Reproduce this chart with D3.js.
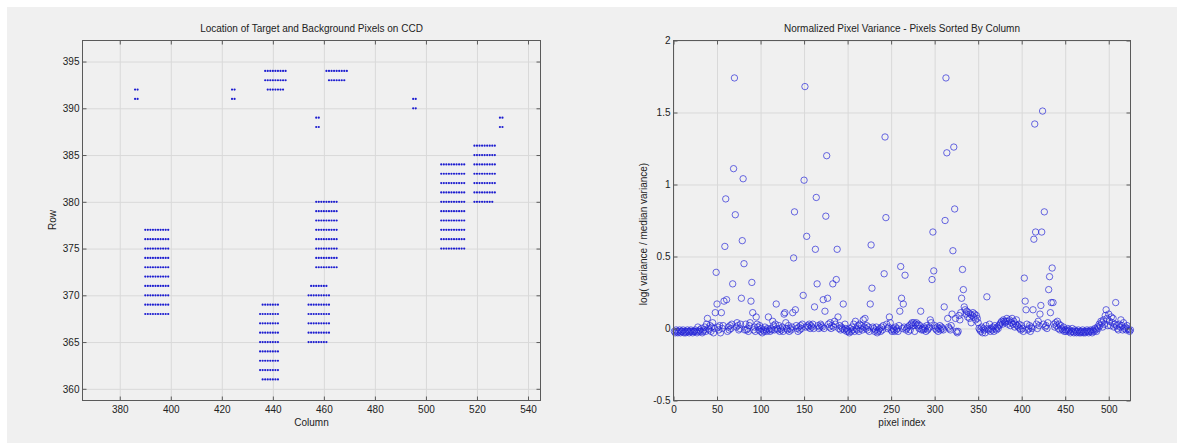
<!DOCTYPE html>
<html>
<head>
<meta charset="utf-8">
<script src="https://cdn.jsdelivr.net/npm/d3@7"></script>
<style>
  body { margin: 0; background: #fff; }
  text { font-family: "Liberation Sans", Arial, sans-serif; }
</style>
</head>
<body>
<svg id="canvas"></svg>
<script>
// [row, first column, last column] of each run of pixels
const pixelRuns = [
    [391, 386, 387], [392, 386, 387],
    [368, 390, 399], [369, 390, 399], [370, 390, 399], [371, 390, 399], [372, 390, 399],
    [373, 390, 399], [374, 390, 399], [375, 390, 399], [376, 390, 399], [377, 390, 399],
    [391, 424, 425], [392, 424, 425],
    [392, 438, 444], [393, 437, 445], [394, 437, 445],
    [393, 462, 468], [394, 461, 469],
    [388, 457, 458], [389, 457, 458],
    [390, 495, 496], [391, 495, 496],
    [388, 529, 530], [389, 529, 530],
    [361, 436, 442], [362, 435, 442], [363, 435, 442], [364, 435, 442], [365, 435, 442],
    [366, 435, 442], [367, 435, 442], [368, 435, 442], [369, 436, 442],
    [375, 506, 515], [376, 506, 515], [377, 506, 515], [378, 506, 515], [379, 506, 515],
    [380, 506, 515], [381, 506, 515], [382, 506, 515], [383, 506, 515], [384, 506, 515],
    [380, 519, 526], [381, 519, 527], [382, 519, 527], [383, 519, 527], [384, 519, 527],
    [385, 519, 527], [386, 519, 527],
    [365, 454, 461], [366, 454, 462], [367, 454, 462], [368, 454, 462], [369, 454, 462],
    [370, 454, 462], [371, 455, 461],
    [373, 457, 465], [374, 457, 465], [375, 457, 465], [376, 457, 465], [377, 457, 465],
    [378, 457, 465], [379, 457, 465], [380, 457, 465]
];

const columnTicks = [380, 400, 420, 440, 460, 480, 500, 520, 540];
const rowTicks = [360, 365, 370, 375, 380, 385, 390, 395];
const indexTicks = [0, 50, 100, 150, 200, 250, 300, 350, 400, 450, 500];
const varianceTicks = [-0.5, 0, 0.5, 1, 1.5, 2];

// log(variance / median variance), pixel index 1..525
const logVariance = [
    -0.02, -0.03, -0.01, -0.02, -0.03, -0.02, -0.01, -0.03, -0.02, -0.02, -0.01, -0.03, -0.02, -0.03, -0.02, -0.01, -0.02, -0.03, -0.02, -0.01, -0.02, -0.03, -0.02, -0.02, -0.01,
    -0.02, -0.03, 0.01, -0.02, -0.01, -0.02, 0.00, -0.03, -0.02, -0.01, 0.01, -0.02, 0.03, 0.07, 0.00, -0.01, 0.02, -0.02, 0.01, 0.04, -0.03, 0.00, 0.11, 0.39, 0.17,
    0.01, -0.01, 0.02, -0.03, 0.11, 0.00, 0.02, 0.19, 0.57, 0.90, 0.20, -0.02, 0.01, -0.01, 0.02, 0.00, 0.03, 0.31, 1.11, 1.74, 0.79, 0.01, 0.04, 0.02, -0.01,
    0.00, 0.03, 0.21, 0.61, 1.04, 0.45, -0.01, 0.03, -0.01, 0.00, -0.02, 0.02, 0.04, 0.19, 0.32, 0.11, -0.01, 0.01, -0.02, 0.08, 0.03, 0.01, -0.01, 0.02, -0.02,
    0.00, -0.03, -0.01, -0.02, 0.01, -0.01, -0.02, 0.00, 0.08, -0.01, -0.02, 0.00, -0.01, 0.05, 0.02, -0.01, 0.03, 0.17, 0.00, -0.01, 0.02, -0.02, 0.00, -0.01, 0.01,
    -0.02, 0.10, 0.11, 0.04, 0.00, -0.01, 0.02, -0.02, 0.00, -0.01, 0.01, 0.11, 0.49, 0.81, 0.13, 0.02, 0.00, -0.02, 0.01, -0.01, 0.02, 0.00, 0.03, 0.23, 1.03,
    1.68, 0.01, 0.64, 0.02, 0.01, 0.03, 0.00, 0.02, 0.01, 0.03, 0.00, 0.15, 0.55, 0.91, 0.31, 0.02, 0.00, 0.01, 0.03, 0.02, 0.01, 0.20, 0.00, 0.12, 0.78,
    1.20, 0.21, 0.03, 0.01, 0.04, 0.00, 0.02, 0.31, 0.01, 0.05, 0.03, 0.34, 0.55, 0.08, 0.00, 0.02, -0.01, 0.01, 0.00, 0.17, -0.01, 0.03, 0.00, -0.02, -0.01,
    -0.02, -0.03, 0.00, -0.02, 0.01, -0.01, 0.03, -0.02, 0.05, 0.00, -0.01, 0.02, -0.02, 0.03, 0.00, 0.02, -0.01, 0.06, 0.01, 0.07, 0.00, 0.02, -0.01, 0.01, -0.02,
    0.17, 0.58, 0.28, 0.01, 0.00, -0.02, -0.01, 0.01, -0.03, -0.02, -0.01, 0.00, -0.02, 0.01, -0.01, 0.02, 0.38, 1.33, 0.77, 0.03, 0.00, 0.01, 0.08, 0.04, -0.01,
    -0.02, 0.00, -0.01, -0.02, 0.01, -0.01, 0.00, -0.02, 0.02, 0.12, 0.43, 0.21, 0.00, 0.17, 0.01, 0.37, -0.01, 0.00, 0.01, -0.02, 0.02, -0.01, 0.03, 0.04, 0.02,
    0.04, -0.02, 0.03, 0.04, 0.02, 0.03, 0.00, 0.02, 0.12, -0.01, 0.00, -0.01, 0.01, 0.00, -0.02, 0.02, -0.01, 0.00, 0.01, 0.06, 0.04, 0.34, 0.67, 0.40, 0.02,
    0.00, -0.01, 0.01, -0.02, 0.00, 0.02, -0.01, 0.01, 0.00, -0.01, 0.15, 0.75, 1.74, 1.22, 0.07, 0.01, 0.00, -0.01, 0.02, 0.10, 0.54, 1.26, 0.83, 0.07, -0.02,
    -0.03, -0.02, 0.09, 0.06, 0.11, 0.21, 0.41, 0.27, 0.15, 0.13, 0.10, 0.12, 0.08, 0.11, 0.07, 0.10, 0.04, 0.09, 0.11, 0.08, 0.10, 0.06, 0.09, 0.07, 0.04,
    0.00, -0.01, -0.02, 0.01, -0.03, 0.00, -0.01, -0.03, 0.02, 0.22, 0.00, -0.01, 0.03, -0.02, 0.00, -0.01, 0.01, -0.02, 0.02, 0.00, -0.01, 0.01, 0.00, 0.02, 0.03,
    0.04, 0.05, 0.03, 0.06, 0.05, 0.04, 0.05, 0.07, 0.03, 0.05, 0.06, 0.02, 0.04, 0.07, 0.03, 0.05, 0.01, 0.03, 0.06, 0.02, 0.01, 0.03, 0.00, -0.01, 0.02,
    0.00, -0.02, 0.35, 0.19, 0.13, 0.03, -0.01, 0.00, 0.02, -0.02, 0.01, 0.00, 0.13, 0.62, 1.42, 0.67, 0.03, 0.00, 0.05, 0.02, 0.10, 0.16, 0.67, 1.51, 0.03,
    0.81, 0.01, 0.02, 0.00, 0.04, 0.27, 0.36, 0.11, 0.18, 0.42, 0.18, 0.03, 0.01, 0.04, 0.02, 0.05, 0.00, 0.03, -0.01, 0.02, 0.00, -0.01, 0.01, -0.02, -0.01,
    -0.02, -0.01, 0.00, -0.02, -0.01, -0.03, -0.02, 0.00, -0.02, -0.03, -0.01, -0.02, -0.03, -0.02, -0.01, -0.03, -0.02, -0.03, -0.02, -0.01, -0.03, -0.02, -0.03, -0.02, -0.01,
    -0.02, -0.03, -0.02, -0.01, -0.02, -0.03, -0.01, -0.02, 0.00, -0.01, -0.02, 0.01, 0.00, 0.03, 0.02, 0.05, 0.04, 0.01, 0.06, 0.03, 0.09, 0.13, 0.07, 0.02, 0.10,
    0.05, 0.02, 0.08, 0.04, 0.07, 0.01, 0.03, 0.18, 0.02, 0.00, -0.01, 0.03, 0.01, 0.06, 0.02, -0.01, 0.04, 0.00, 0.01, -0.01, 0.02, 0.00, -0.01, -0.02, -0.01
];

const svg = d3.select("#canvas")
    .attr("width", 1177)
    .attr("height", 443);

svg.append("rect")
    .attr("x", 7)
    .attr("y", 7)
    .attr("width", 1170)
    .attr("height", 436)
    .attr("fill", "#f0f0f0");

const drawGrid = (box, x, y, xTicks, yTicks) => {
    const grid = svg.append("g");

    grid.append("g")
        .attr("transform", "translate(0," + box.bottom + ")")
        .call(d3.axisBottom(x).tickValues(xTicks).tickSize(-(box.bottom - box.top)).tickFormat(""));

    grid.append("g")
        .attr("transform", "translate(" + box.left + ",0)")
        .call(d3.axisLeft(y).tickValues(yTicks).tickSize(-(box.right - box.left)).tickFormat(""));

    grid.selectAll(".domain").remove();
    grid.selectAll("line").attr("stroke", "#d9d9d9");
}

const drawAxes = (box, x, y, xTicks, yTicks, title, xLabel, yLabel, yLabelCenter) => {
    const g = svg.append("g");
    const fmt = d => String(d);

    g.append("g")
        .attr("transform", "translate(0," + box.bottom + ")")
        .call(d3.axisBottom(x).tickValues(xTicks).tickSizeInner(-4).tickSizeOuter(0).tickPadding(5).tickFormat(fmt));
    g.append("g")
        .attr("transform", "translate(0," + box.top + ")")
        .call(d3.axisTop(x).tickValues(xTicks).tickSizeInner(-4).tickSizeOuter(0).tickFormat(""));
    g.append("g")
        .attr("transform", "translate(" + box.left + ",0)")
        .call(d3.axisLeft(y).tickValues(yTicks).tickSizeInner(-4).tickSizeOuter(0).tickPadding(3).tickFormat(fmt));
    g.append("g")
        .attr("transform", "translate(" + box.right + ",0)")
        .call(d3.axisRight(y).tickValues(yTicks).tickSizeInner(-4).tickSizeOuter(0).tickFormat(""));

    g.selectAll(".domain").remove();
    g.selectAll(".tick line").attr("stroke", "#5a5a5a");
    g.selectAll(".tick text")
        .attr("fill", "#222")
        .style("font-size", "10px")
        .style("font-family", "'Liberation Sans', Arial, sans-serif");

    g.append("rect")
        .attr("x", box.left)
        .attr("y", box.top)
        .attr("width", box.right - box.left)
        .attr("height", box.bottom - box.top)
        .attr("fill", "none")
        .attr("stroke", "#5a5a5a");

    const cx = (box.left + box.right) / 2;

    g.append("text")
        .attr("x", cx)
        .attr("y", 31.5)
        .attr("text-anchor", "middle")
        .attr("font-size", 10)
        .attr("fill", "#222")
        .text(title);

    g.append("text")
        .attr("x", cx)
        .attr("y", 426)
        .attr("text-anchor", "middle")
        .attr("font-size", 10)
        .attr("fill", "#222")
        .text(xLabel);

    g.append("text")
        .attr("transform", "translate(" + (box.left - 27) + "," + yLabelCenter + ") rotate(-90)")
        .attr("text-anchor", "middle")
        .attr("font-size", 10)
        .attr("fill", "#222")
        .text(yLabel);
}

const createPixelMap = () => {
    const box = { left: 82.5, right: 540.5, top: 40.5, bottom: 400.5 };

    const x = d3.scaleLinear()
        .domain([365.4, 544.9])
        .range([box.left, box.right]);

    const y = d3.scaleLinear()
        .domain([358.75, 397.25])
        .range([box.bottom, box.top]);

    drawGrid(box, x, y, columnTicks, rowTicks);

    const pixels = pixelRuns.flatMap(([row, first, last]) =>
        d3.range(first, last + 1).map(column => ({ row, column })));

    svg.append("g")
        .selectAll("circle")
        .data(pixels)
        .enter()
        .append("circle")
        .attr("cx", d => x(d.column))
        .attr("cy", d => y(d.row))
        .attr("r", 1.1)
        .attr("fill", "#1c1cd0");

    drawAxes(box, x, y, columnTicks, rowTicks,
        "Location of Target and Background Pixels on CCD", "Column", "Row", 220);
}

const createVariancePlot = () => {
    const box = { left: 673.5, right: 1130.5, top: 40.5, bottom: 400.5 };

    const x = d3.scaleLinear()
        .domain([0, 525])
        .range([box.left, box.right]);

    const y = d3.scaleLinear()
        .domain([-0.5, 2])
        .range([box.bottom, box.top]);

    drawGrid(box, x, y, indexTicks, varianceTicks);

    svg.append("g")
        .selectAll("circle")
        .data(logVariance)
        .enter()
        .append("circle")
        .attr("cx", (d, i) => x(i + 1))
        .attr("cy", d => y(d))
        .attr("r", 3.2)
        .attr("fill", "none")
        .attr("stroke", "#2323d6")
        .attr("stroke-opacity", 0.75)
        .attr("stroke-width", 0.9);

    drawAxes(box, x, y, indexTicks, varianceTicks,
        "Normalized Pixel Variance - Pixels Sorted By Column", "pixel index",
        "log( variance / median variance)", 234);
}

createPixelMap();
createVariancePlot();
</script>
</body>
</html>
